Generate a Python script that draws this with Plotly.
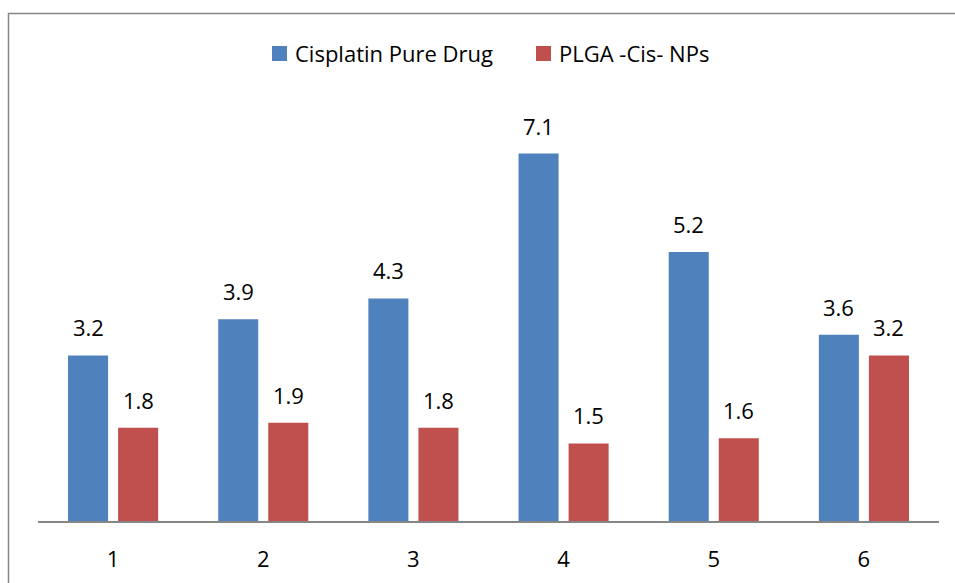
import plotly.graph_objects as go

categories = ["1", "2", "3", "4", "5", "6"]
cisplatin = [3.2, 3.9, 4.3, 7.1, 5.2, 3.6]
plga = [1.8, 1.9, 1.8, 1.5, 1.6, 3.2]
series_names = ["Cisplatin Pure Drug", "PLGA -Cis- NPs"]
colors = ["#4F81BD", "#C0504D"]

FONT = "Open Sans"
FS = 22
W, H = 955, 583
L, R, T, B = 38, 16, 80, 62
PX_PER_UNIT = 51.75
ymax = (H - T - B) / PX_PER_UNIT

fig = go.Figure()
for name, vals, col in zip(series_names, [cisplatin, plga], colors):
    fig.add_trace(go.Bar(x=categories, y=vals, name=name, marker_color=col,
                         marker_line_width=0, showlegend=False))

annotations = []
for vals, shift in [(cisplatin, -25), (plga, 25)]:
    for i, v in enumerate(vals):
        annotations.append(dict(x=i, y=v, xref="x", yref="y", text=f"{v:.1f}",
                                showarrow=False, xshift=shift, yanchor="bottom",
                                yshift=11, font=dict(family=FONT, size=FS, color="black")))

pw = W - L - R
ph = H - T - B
def px_x(p):
    return (p - L) / pw
def px_y(p):
    return (H - B - p) / ph

# manual legend
shapes = []
leg_items = [(272, 293), (536, 557)]
for (sx, tx), name, col in zip(leg_items, series_names, colors):
    shapes.append(dict(type="rect", xref="paper", yref="paper",
                       x0=px_x(sx), x1=px_x(sx + 15), y0=px_y(61), y1=px_y(46),
                       fillcolor=col, line_width=0))
    annotations.append(dict(x=px_x(tx), y=px_y(53.5), xref="paper", yref="paper",
                            text=name, showarrow=False, xanchor="left", yanchor="middle",
                            font=dict(family=FONT, size=FS, color="black")))

# outer border
shapes.append(dict(type="rect", xref="paper", yref="paper",
                   x0=px_x(8.5), x1=px_x(W + 20), y0=px_y(H + 20), y1=px_y(13.5),
                   line=dict(color="#868686", width=1.5), fillcolor="rgba(0,0,0,0)", layer="below"))

fig.update_layout(
    width=W, height=H,
    margin=dict(l=L, r=R, t=T, b=B),
    paper_bgcolor="white", plot_bgcolor="white",
    barmode="group", bargap=1/3, bargroupgap=0.2,
    annotations=annotations, shapes=shapes,
    xaxis=dict(type="category", range=[-0.5, len(categories) - 0.5],
               automargin=False,
               showline=True, linecolor="#868686", linewidth=2,
               showgrid=False, ticks="", ticklabelstandoff=18,
               tickfont=dict(family=FONT, size=FS, color="black")),
    yaxis=dict(range=[0, ymax], visible=False, showgrid=False, zeroline=False,
               automargin=False),
)

fig.write_html("out.html")
